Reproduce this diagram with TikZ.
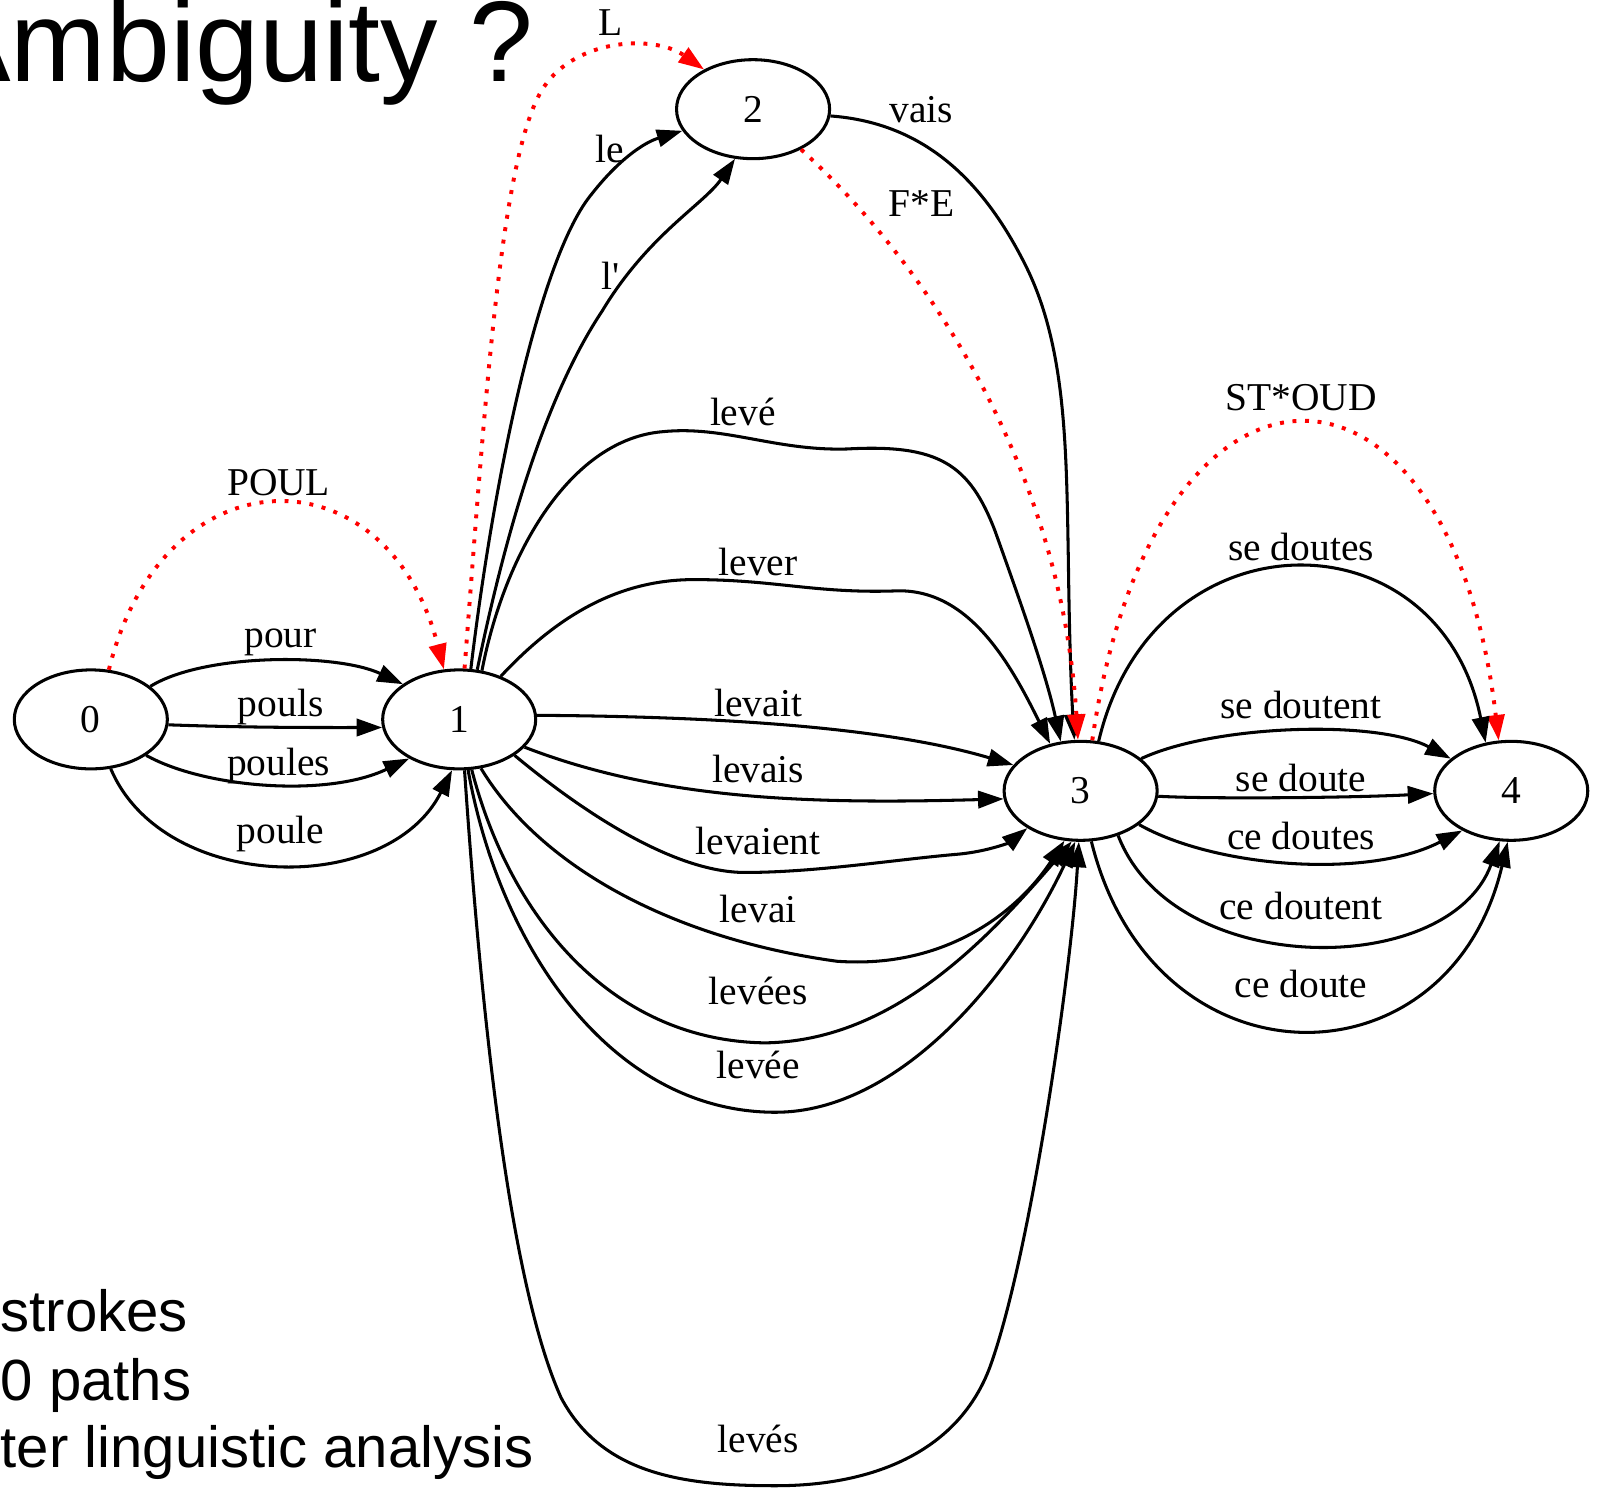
\documentclass[tikz,border=0pt]{standalone}
\usepackage{fontspec}
\setmainfont{Liberation Serif}
\newfontfamily\slidefont{Liberation Sans}
\usepackage{xcolor}
\definecolor{dotred}{RGB}{255,0,0}
\usepackage{tikz}
\usetikzlibrary{
    shapes.geometric,
    arrows.meta,
    positioning
}

\begin{document}
\begin{tikzpicture}[
        state/.style={ellipse, draw, line width=0.85pt, minimum width=1.5cm, minimum height=0.97cm, inner sep=0pt, font=\fontsize{11}{13}\selectfont},
        trans/.style={-{Triangle[length=0.25cm,width=0.17cm]}, line width=0.85pt},
        ambig/.style={-{Triangle[length=0.25cm,width=0.17cm]}, dotred, line width=1.1pt, dash pattern=on 1.1pt off 2.4pt},
        lbl/.style={font=\fontsize{11}{13}\selectfont, text=black, inner sep=0pt},
        title/.style={font=\slidefont\fontsize{32}{36}\selectfont, anchor=base west, inner sep=0pt},
        note/.style={font=\slidefont\fontsize{16.2}{19}\selectfont, anchor=base west, inner sep=0pt}
    ]
        \useasboundingbox (0,0) rectangle (15.68,-14.58);
        \clip (0,0) rectangle (15.68,-14.58);

        \node[title] (title) at (-0.65,-0.80) {Ambiguity ?};
        \node[note] (keys) at (0,-13.05) {strokes};
        \node[note] (paths) at (0,-13.72) {0 paths};
        \node[note] (after) at (0,-14.38) {ter linguistic analysis};

        \node[state] (n0) at (0.89,-7.05) {0};
        \node[state] (n1) at (4.50,-7.05) {1};
        \node[state] (n2) at (7.38,-1.07) {2};
        \node[state] (n3) at (10.59,-7.75) {3};
        \node[state] (n4) at (14.81,-7.75) {4};

        % 0 -> 1
        \draw[ambig] (n0.70) .. controls (1.6,-4.4) and (3.8,-4.4) .. (n1.107) node[lbl] (w-poul) at (2.73,-4.73) {POUL};
        \draw[trans] (n0.29) .. controls (2.0,-6.4) and (3.3,-6.4) .. (n1.148) node[lbl] (w-pour) at (2.75,-6.30) {pour};
        \draw[trans] (n0.-4) .. controls (2.4,-7.13) and (3.0,-7.13) .. (n1.-174) node[lbl] (w-pouls) at (2.75,-6.93) {pouls};
        \draw[trans] (n0.-33) .. controls (2.0,-7.72) and (3.2,-7.82) .. (n1.-142) node[lbl] (w-poules) at (2.73,-7.51) {poules};
        \draw[trans] (n0.-68) .. controls (1.6,-8.75) and (3.8,-8.8) .. (n1.-98) node[lbl] (w-poule) at (2.75,-8.17) {poule};

        % 1 -> 2
        \draw[ambig] (n1.84) .. controls (4.75,-4.0) and (4.9,-1.6) .. (5.3,-0.9) .. controls (5.6,-0.38) and (6.4,-0.33) .. (n2.141) node[lbl] (w-L) at (5.98,-0.22) {L};
        \draw[trans] (n1.77) .. controls (4.85,-4.6) and (5.3,-2.5) .. (5.8,-1.9) .. controls (6.05,-1.58) and (6.3,-1.4) .. (n2.197) node[lbl] (w-le) at (5.98,-1.46) {le};
        \draw[trans] (n1.70) .. controls (5.0,-5.0) and (5.4,-3.8) .. (5.9,-3.05) .. controls (6.35,-2.3) and (6.9,-2.0) .. (n2.250) node[lbl] (w-lapos) at (5.98,-2.70) {l\textquotesingle};

        % 2 -> 3
        \draw[trans] (n2.-5) .. controls (9.0,-1.2) and (9.6,-1.7) .. (10.05,-2.6) .. controls (10.45,-3.4) and (10.45,-4.4) .. (10.47,-5.5) .. controls (10.48,-6.3) and (10.5,-6.8) .. (n3.97) node[lbl] (w-vais) at (9.03,-1.07) {vais};
        \draw[ambig] (n2.-40) .. controls (9.1,-2.6) and (10.4,-4.6) .. (n3.93) node[lbl] (w-fe) at (9.03,-2.0) {F*E};

        % 1 -> 3
        \draw[trans] (n1.65) .. controls (4.95,-5.4) and (5.6,-4.3) .. (6.5,-4.23) .. controls (7.1,-4.17) and (7.6,-4.42) .. (8.3,-4.40) .. controls (9.2,-4.35) and (9.5,-4.55) .. (9.75,-5.2) .. controls (10.0,-5.9) and (10.25,-6.6) .. (n3.112) node[lbl] (w-leve) at (7.28,-4.04) {levé};
        \draw[trans] (n1.46) .. controls (5.4,-6.1) and (6.0,-5.68) .. (6.8,-5.68) .. controls (7.6,-5.68) and (8.0,-5.82) .. (8.8,-5.79) .. controls (9.5,-5.78) and (9.9,-6.5) .. (n3.123) node[lbl] (w-lever) at (7.43,-5.51) {lever};
        \draw[trans] (n1.3) .. controls (6.8,-7.02) and (8.6,-7.1) .. (n3.159) node[lbl] (w-levait) at (7.43,-6.89) {levait};
        \draw[trans] (n1.-23) .. controls (6.5,-7.85) and (8.0,-7.88) .. (n3.-174) node[lbl] (w-levais) at (7.43,-7.54) {levais};
        \draw[trans] (n1.-33) .. controls (5.7,-7.95) and (6.6,-8.55) .. (7.3,-8.55) .. controls (8.0,-8.55) and (8.8,-8.42) .. (9.4,-8.37) .. controls (9.7,-8.34) and (9.9,-8.25) .. (n3.-145) node[lbl] (w-levaient) at (7.43,-8.24) {levaient};
        \draw[trans] (n1.-66) .. controls (5.3,-8.5) and (6.6,-9.2) .. (8.2,-9.42) .. controls (9.3,-9.5) and (10.0,-8.9) .. (n3.-108) node[lbl] (w-levai) at (7.43,-8.91) {levai};
        \draw[trans] (n1.-76) .. controls (5.0,-9.0) and (6.0,-10.2) .. (7.5,-10.22) .. controls (8.7,-10.2) and (9.6,-9.3) .. (n3.-100) node[lbl] (w-levees) at (7.43,-9.71) {levées};
        \draw[trans] (n1.-80) .. controls (4.9,-9.3) and (6.0,-10.9) .. (7.6,-10.9) .. controls (8.8,-10.9) and (9.9,-9.6) .. (n3.-96) node[lbl] (w-levee) at (7.43,-10.44) {levée};
        \draw[trans] (n1.-84) .. controls (4.72,-10.0) and (5.0,-12.6) .. (5.5,-13.7) .. controls (5.9,-14.45) and (6.7,-14.56) .. (7.6,-14.56) .. controls (8.6,-14.56) and (9.4,-14.2) .. (9.7,-13.4) .. controls (10.1,-12.3) and (10.5,-9.5) .. (n3.-92) node[lbl] (w-leves) at (7.43,-14.10) {levés};

        % 3 -> 4
        \draw[ambig] (n3.77) .. controls (11.3,-3.12) and (14.2,-3.12) .. (n4.104) node[lbl] (w-stoud) at (12.75,-3.90) {ST*OUD};
        \draw[trans] (n3.70) .. controls (11.3,-5.0) and (14.1,-5.0) .. (n4.118) node[lbl] (w-sedoutes) at (12.75,-5.36) {se doutes};
        \draw[trans] (n3.28) .. controls (11.9,-7.1) and (13.5,-7.05) .. (n4.152) node[lbl] (w-sedoutent) at (12.75,-6.91) {se doutent};
        \draw[trans] (n3.-4) .. controls (11.8,-7.83) and (13.2,-7.82) .. (n4.-178) node[lbl] (w-sedoute) at (12.75,-7.62) {se doute};
        \draw[trans] (n3.-30) .. controls (11.9,-8.5) and (13.4,-8.62) .. (n4.-141) node[lbl] (w-cedoutes) at (12.75,-8.19) {ce doutes};
        \draw[trans] (n3.-50) .. controls (11.5,-9.6) and (14.2,-9.6) .. (n4.-103) node[lbl] (w-cedoutent) at (12.75,-8.88) {ce doutent};
        \draw[trans] (n3.-78) .. controls (11.3,-10.7) and (14.2,-10.7) .. (n4.-94) node[lbl] (w-cedoute) at (12.75,-9.64) {ce doute};
    \end{tikzpicture}
\end{document}
